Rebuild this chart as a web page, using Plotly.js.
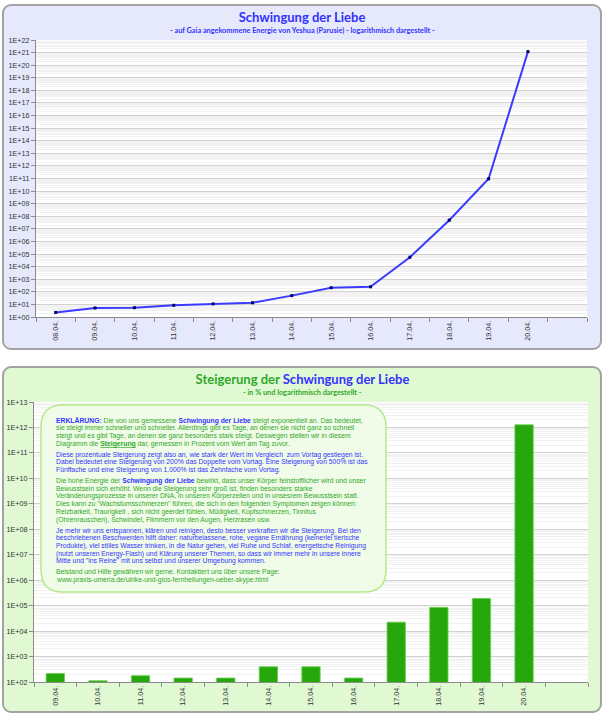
<!DOCTYPE html>
<html><head><meta charset="utf-8">
<script src="https://cdn.plot.ly/plotly-3.0.1.min.js"></script>
<style>
html,body{margin:0;padding:0;width:605px;height:720px;overflow:hidden;background:#ffffff}
.panel{position:absolute;box-sizing:border-box;border:2px solid #a3a3a3;border-radius:9px}
#p1{left:2px;top:4px;width:600px;height:346px;background:#e6e8fb}
#p2{left:2px;top:366px;width:600px;height:347px;background:#e0f9d3}
.chart{position:absolute;left:0;width:605px;height:360px}
#c1{top:0}
#c2{top:360px}
</style></head><body>
<div class="panel" id="p1"></div><div class="panel" id="p2"></div>
<div class="chart" id="c1"></div><div class="chart" id="c2"></div>
<script>
// ---------- DATA ----------
const dateLabelsTop = ["08.04.","09.04.","10.04.","11.04.","12.04.","13.04.","14.04.","15.04.","16.04.","17.04.","18.04.","19.04.","20.04."];
const energyValues = [2.3, 5.2, 5.5, 8.5, 11, 13.5, 50, 210, 250, 5.6e4, 4.9e7, 9.5e10, 1.2e21];
const yTickLabelsTop = ["1E+00","1E+01","1E+02","1E+03","1E+04","1E+05","1E+06","1E+07","1E+08","1E+09","1E+10","1E+11","1E+12","1E+13","1E+14","1E+15","1E+16","1E+17","1E+18","1E+19","1E+20","1E+21","1E+22"];

const dateLabelsBottom = ["09.04.","10.04.","11.04.","12.04.","13.04.","14.04.","15.04.","16.04.","17.04.","18.04.","19.04.","20.04."];
const increasePercent = [215, 112, 177, 143, 143, 396, 396, 143, 2.24e4, 8.4e4, 1.9e5, 1.27e12];
const yTickLabelsBottom = ["1E+02","1E+03","1E+04","1E+05","1E+06","1E+07","1E+08","1E+09","1E+10","1E+11","1E+12","1E+13"];

const BLUE = '#3333ff', GREEN = '#30a82a';
const b = t => '<b><span style="color:'+BLUE+'">'+t+'</span></b>';
const explanation = [
 {color: GREEN, lines: [
  b('ERKLÄRUNG:')+' Die von uns gemessene '+b('Schwingung der Liebe')+' steigt exponentiell an. Das bedeutet,',
  'sie steigt immer schneller und schneller. Allerdings gibt es Tage, an denen sie nicht ganz so schnell',
  'steigt und es gibt Tage, an denen sie ganz besonders stark steigt. Deswegen stellen wir in diesem',
  'Diagramm die <b><span style="text-decoration:underline">Steigerung</span></b> dar, gemessen in Prozent vom Wert am Tag zuvor.'
 ]},
 {color: BLUE, lines: [
  'Diese prozentuale Steigerung zeigt also an, wie stark der Wert im Vergleich  zum Vortag gestiegen ist.',
  'Dabei bedeutet eine Steigerung von 200% das Doppelte vom Vortag. Eine Steigerung von 500% ist das',
  'Fünffache und eine Steigerung von 1.000% ist das Zehnfache vom Vortag.'
 ]},
 {color: GREEN, lines: [
  'Die hohe Energie der '+b('Schwingung der Liebe')+' bewirkt, dass unser Körper feinstofflicher wird und unser',
  'Bewusstsein sich erhöht. Wenn die Steigerung sehr groß ist, finden besonders starke',
  'Veränderungsprozesse in unserer DNA, in unseren Körperzellen und in unsesrem Bewusstsein statt.',
  'Dies kann zu "Wachstumsschmerzen" führen, die sich in den folgenden Symptomen zeigen können:',
  'Reizbarkeit, Traurigkeit , sich nicht geerdet fühlen, Müdigkeit, Kopfschmerzen, Tinnitus',
  '(Ohrenrauschen), Schwindel, Flimmern vor den Augen, Herzrasen usw.'
 ]},
 {color: BLUE, lines: [
  'Je mehr wir uns entspannen, klären und reinigen, desto besser verkraften wir die Steigerung. Bei den',
  'beschriebenen Beschwerden hilft daher: naturbelassene, rohe, vegane Ernährung (keinerlei tierische',
  'Produkte), viel stilles Wasser trinken, in die Natur gehen, viel Ruhe und Schlaf, energetische Reinigung',
  '(nutzt unseren Energy-Flash) und Klärung unserer Themen, so dass wir immer mehr in unsere innere',
  'Mitte und "ins Reine" mit uns selbst und unserer Umgebung kommen.'
 ]},
 {color: GREEN, lines: [
  'Beistand und Hilfe gewähren wir gerne. Kontaktiert uns über unsere Page:',
  'www.praxis-umeria.de/ulrike-und-gios-fernheilungen-ueber-skype.html'
 ]}
];

// ---------- COMMON ----------
const tickFont = {family:'Liberation Sans, Arial, sans-serif', size:7.2, color:'#333333'};
const titleFont = {family:'Lato, sans-serif', size:13, color:BLUE};
const config = {staticPlot:true, displayModeBar:false};

function xAxisCommon(n){
  return {
    range:[-0.5, n+0.5], tickmode:'array',
    tickvals: Array.from({length:n},(_, i)=>i),
    tickangle:-90, tickfont:tickFont, ticks:'', showgrid:false, zeroline:false,
    showline:true, linecolor:'#8c8c8c', linewidth:1,
    minor:{tick0:-0.5, dtick:1, ticks:'outside', ticklen:4, tickcolor:'#8c8c8c', showgrid:false},
    fixedrange:true
  };
}
function yAxisLog(labels){
  const vals = labels.map(Number);
  return {
    type:'log', range:[Math.log10(vals[0]), Math.log10(vals[vals.length-1])],
    tickmode:'array', tickvals:vals, ticktext:labels, tickfont:tickFont,
    ticks:'outside', ticklen:4, tickcolor:'#8c8c8c',
    showgrid:true, gridcolor:'#d2d2d2', gridwidth:1,
    minor:{dtick:'D1', showgrid:true, gridcolor:'#f2f2f2', ticks:''},
    showline:true, linecolor:'#8c8c8c', linewidth:1, zeroline:false, fixedrange:true
  };
}

// ---------- TOP CHART ----------
(function(){
  const W=605, H=360, m={l:36, r:18, t:40, b:43};
  const pw=W-m.l-m.r, ph=H-m.t-m.b;
  const px = x => (x-m.l)/pw, py = y => (H-m.b-y)/ph;
  const trace = {
    x: dateLabelsTop.map((_, i)=>i), y: energyValues, type:'scatter', mode:'lines+markers',
    line:{color:'#3b3bff', width:2}, marker:{symbol:'square', size:3, color:'#000066'},
    hoverinfo:'skip'
  };
  const xa = xAxisCommon(dateLabelsTop.length + 1);
  xa.range = [-0.5, dateLabelsTop.length + 0.5];
  xa.tickvals = dateLabelsTop.map((_, i)=>i);
  xa.ticktext = dateLabelsTop;
  const layout = {
    width:W, height:H, margin:m, paper_bgcolor:'rgba(0,0,0,0)', plot_bgcolor:'#ffffff',
    showlegend:false,
    title:{text:'<b>Schwingung der Liebe</b>', font:titleFont, x:302/W, xanchor:'center', xref:'container',
           y:1-17.5/H, yref:'container', yanchor:'middle'},
    xaxis: xa, yaxis: yAxisLog(yTickLabelsTop),
    annotations:[{text:'<b>- auf Gaia angekommene Energie von Yeshua (Parusie) - logarithmisch dargestellt -</b>',
      xref:'paper', yref:'paper', x:px(302), y:py(30.8), xanchor:'center', yanchor:'middle', showarrow:false,
      font:{family:'Lato, sans-serif', size:7.3, color:BLUE}}]
  };
  Plotly.newPlot('c1', [trace], layout, config);
})();

// ---------- BOTTOM CHART ----------
(function(){
  const W=605, H=360, OFF=360, m={l:34, r:17, t:42, b:38};
  const pw=W-m.l-m.r, ph=H-m.t-m.b;
  const px = x => (x-m.l)/pw, py = y => (H-m.b-(y-OFF))/ph;
  const trace = {
    x: dateLabelsBottom.map((_, i)=>i), y: increasePercent, type:'bar', width:0.43,
    marker:{color:'#26a70c', line:{color:'#66d14a', width:0.8}}, hoverinfo:'skip'
  };
  const xa = xAxisCommon(dateLabelsBottom.length);
  xa.range = [-0.5, dateLabelsBottom.length + 0.5];
  xa.ticktext = dateLabelsBottom;

  // text box (rounded rectangle)
  const bx0=41, bx1=386, by0=405, by1=592, r=22;
  const X = v => px(v).toFixed(5), Y = v => py(v).toFixed(5);
  const path = 'M'+X(bx0+r)+','+Y(by0)+' L'+X(bx1-r)+','+Y(by0)+' Q'+X(bx1)+','+Y(by0)+' '+X(bx1)+','+Y(by0+r)+
    ' L'+X(bx1)+','+Y(by1-r)+' Q'+X(bx1)+','+Y(by1)+' '+X(bx1-r)+','+Y(by1)+
    ' L'+X(bx0+r)+','+Y(by1)+' Q'+X(bx0)+','+Y(by1)+' '+X(bx0)+','+Y(by1-r)+
    ' L'+X(bx0)+','+Y(by0+r)+' Q'+X(bx0)+','+Y(by0)+' '+X(bx0+r)+','+Y(by0)+' Z';

  const anns = [];
  anns.push({text:'<b>- in % und logarithmisch dargestellt -</b>', xref:'paper', yref:'paper',
    x:px(302.5), y:py(392.5), xanchor:'center', yanchor:'middle', showarrow:false,
    font:{family:'Lato, sans-serif', size:7.3, color:GREEN}});
  let yLine = 420.6;
  const LS = 7.72, PG = 3.2;
  explanation.forEach((para, pi)=>{
    if (pi>0) yLine += PG;
    para.lines.forEach(t=>{
      anns.push({text:t, xref:'paper', yref:'paper', x:px(54), y:py(yLine), xanchor:'left', yanchor:'middle',
        showarrow:false, font:{family:'Liberation Sans, Arial, sans-serif', size:6.8, color:para.color}});
      yLine += LS;
    });
  });

  const layout = {
    width:W, height:H, margin:m, paper_bgcolor:'rgba(0,0,0,0)', plot_bgcolor:'#ffffff',
    showlegend:false, bargap:0.57,
    title:{text:'<b><span style="color:'+GREEN+'">Steigerung der </span>Schwingung der Liebe</b>', font:titleFont,
           x:302.5/W, xanchor:'center', xref:'container', y:1-19/H, yref:'container', yanchor:'middle'},
    xaxis: xa, yaxis: yAxisLog(yTickLabelsBottom),
    shapes:[{type:'path', path:path, xref:'paper', yref:'paper', fillcolor:'rgba(240,252,231,0.97)',
             line:{color:'#b4ea8c', width:1.5}, layer:'above'}],
    annotations: anns
  };
  Plotly.newPlot('c2', [trace], layout, config);
})();
</script>
</body></html>
